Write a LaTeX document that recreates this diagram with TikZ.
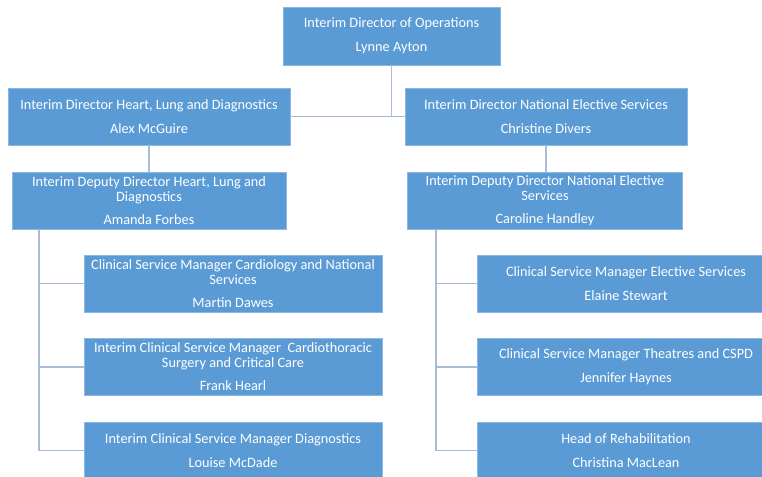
\documentclass[tikz,border=0pt]{standalone}
\usepackage{fontspec}
\setmainfont{Carlito}
\definecolor{boxfill}{HTML}{5B9BD5}
\definecolor{boxline}{HTML}{8DB6E2}
\definecolor{conn}{HTML}{A7BCD6}
\begin{document}
\begin{tikzpicture}[x=1pt,y=-1pt,
  box/.style={draw=boxline,line width=0.8pt,fill=boxfill,text=white,align=center,
    inner sep=0pt,font=\fontsize{14.3}{15}\selectfont},
  conn/.style={draw=conn,line width=1.4pt}]
\useasboundingbox (0,0) rectangle (762,476);
\clip (0,0) rectangle (762,476);
\node[box,minimum width=217pt,minimum height=58pt] (top) at (391.5,36)
  {Interim Director of Operations\\[9pt]Lynne Ayton};
\node[box,minimum width=282pt,minimum height=57pt] (ld) at (149,116.5)
  {Interim Director Heart, Lung and Diagnostics\\[9pt]Alex McGuire};
\node[box,minimum width=282pt,minimum height=57pt] (rd) at (546,116.5)
  {Interim Director National Elective Services\\[9pt]Christine Divers};
\node[box,minimum width=274pt,minimum height=57pt] (ldep) at (149,200.5)
  {Interim Deputy Director Heart, Lung and\\Diagnostics\\[8pt]Amanda Forbes};
\node[box,minimum width=275pt,minimum height=57pt] (rdep) at (545,200.5)
  {Interim Deputy Director National Elective\\Services\\[8pt]Caroline Handley};
\node[box,minimum width=298pt,minimum height=57pt] (l1) at (233,283.5)
  {Clinical Service Manager Cardiology and National\\Services\\[8pt]Martin Dawes};
\node[box,minimum width=298pt,minimum height=57pt] (l2) at (233,367)
  {Interim Clinical Service Manager\ \ Cardiothoracic\\Surgery and Critical Care\\[8pt]Frank Hearl};
\node[box,minimum width=298pt,minimum height=57pt] (l3) at (233,450.5)
  {Interim Clinical Service Manager Diagnostics\\[9pt]Louise McDade};
\node[box,minimum width=298pt,minimum height=57pt] (r1) at (626,283.5)
  {Clinical Service Manager Elective Services\\[9pt]Elaine Stewart};
\node[box,minimum width=298pt,minimum height=57pt] (r2) at (626,367)
  {Clinical Service Manager Theatres and CSPD\\[9pt]Jennifer Haynes};
\node[box,minimum width=298pt,minimum height=57pt] (r3) at (626,450.5)
  {Head of Rehabilitation\\[9pt]Christina MacLean};
\coordinate (sl) at (39,0);
\coordinate (sr) at (436,0);
\draw[conn] (top.south) -- (top.south |- ld.east);
\draw[conn] (ld.east) -- (rd.west);
\draw[conn] (ld.south) -- (ld.south |- ldep.north);
\draw[conn] (rd.south) -- (rd.south |- rdep.north);
\draw[conn] (sl |- ldep.south) -- (sl |- l3.west) -- (l3.west);
\draw[conn] (sl |- l1.west) -- (l1.west);
\draw[conn] (sl |- l2.west) -- (l2.west);
\draw[conn] (sr |- rdep.south) -- (sr |- r3.west) -- (r3.west);
\draw[conn] (sr |- r1.west) -- (r1.west);
\draw[conn] (sr |- r2.west) -- (r2.west);
\end{tikzpicture}
\end{document}
